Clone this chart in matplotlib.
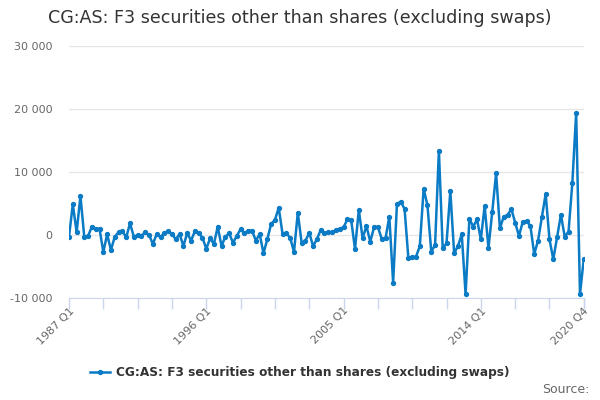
import matplotlib
matplotlib.use("Agg")
import matplotlib.pyplot as plt
from matplotlib.lines import Line2D

series_name = "CG:AS: F3 securities other than shares (excluding swaps)"
start_year = 1987
values = [
    -270, 4870, 430, 6190, -270, -150, 1320, 900, 1000, -2700,
    100, -2380, -270, 430, 640, -380, 1850, -270, 0, -100,
    430, 0, -1430, 160, -380, 370, 580, 160, -700, 160,
    -1750, 320, -900, 580, 270, -400, -2200, -530, -1430, 1320,
    -1750, -270, 260, -1220, -160, 950, 260, 690, 690, -900,
    160, -2900, -690, 1750, 2380, 4340, 160, 260, -420, -2700,
    3540, -1220, -950, 370, -1750, -690, 800, 260, 420, 420,
    800, 1000, 1220, 2480, 2380, -2220, 3970, -530, 1430, -1060,
    1220, 1320, -630, -530, 2910, -7570, 4920, 5290, 4130, -3700,
    -3540, -3440, -1750, 7350, 4710, -2640, -1590, 13390, -2120, -1320,
    6980, -2910, -1750, 100, -9420, 2590, 1320, 2480, -690, 4600,
    -2060, 3700, 9790, 1060, 2910, 3170, 4130, 1960, -160, 2120,
    2220, 1430, -3020, -900, 2800, 6510, -690, -3860, -270, 3230,
    -270, 530, 8310, 19420, -9370, -3760,
]
quarters = [f"{start_year + i // 4} Q{i % 4 + 1}" for i in range(len(values))]
label_quarters = ["1987 Q1", "1996 Q1", "2005 Q1", "2014 Q1", "2020 Q4"]
y_ticks = [-10000, 0, 10000, 20000, 30000]

color = "#0a7bc4"
fig = plt.figure(figsize=(6, 4), dpi=100)
ax = fig.add_axes([0.115, 0.255, 0.858, 0.63])

x = list(range(len(values)))
ax.plot(x, values, color=color, lw=1.8, marker="o", ms=2.8, zorder=3)

ax.set_ylim(-10000, 30000)
ax.set_xlim(0, len(values) - 1)
ax.set_yticks(y_ticks)
ax.set_yticklabels([f"{v:,}".replace(",", " ") for v in y_ticks],
                   color="#666666", fontsize=8)
ax.yaxis.grid(True, color="#e6e6e6", lw=1)
ax.set_axisbelow(True)
ax.tick_params(axis="y", length=0, pad=12)

major = list(range(0, len(values), 9)) + [len(values) - 1]
ax.set_xticks(major)
ax.set_xticklabels(["" for _ in major])
lab_pos = [quarters.index(q) for q in label_quarters]
for p, q in zip(lab_pos, label_quarters):
    ax.text(p, -0.03, q, transform=ax.get_xaxis_transform(), rotation=45,
            ha="right", va="top", rotation_mode="anchor",
            color="#666666", fontsize=8)
ax.tick_params(axis="x", length=8, color="#ccd6eb", width=1)

for s in ["top", "right", "left"]:
    ax.spines[s].set_visible(False)
ax.spines["bottom"].set_color("#ccd6eb")
ax.spines["bottom"].set_position(("data", -10000))

fig.text(0.08, 0.955, series_name, fontsize=12.6, color="#333333",
         ha="left", va="center")

handle = Line2D([], [], color=color, lw=1.8, marker="o", ms=2.8)
leg = fig.legend([handle], [series_name], loc="center", bbox_to_anchor=(0.5, 0.068),
                 frameon=False, prop={"weight": "bold", "size": 8.75},
                 handlelength=1.6, handletextpad=0.5)
for t in leg.get_texts():
    t.set_color("#333333")

fig.text(0.982, 0.027, "Source:", fontsize=9, color="#666666", ha="right", va="center")

fig.savefig("out.png", dpi=100)
